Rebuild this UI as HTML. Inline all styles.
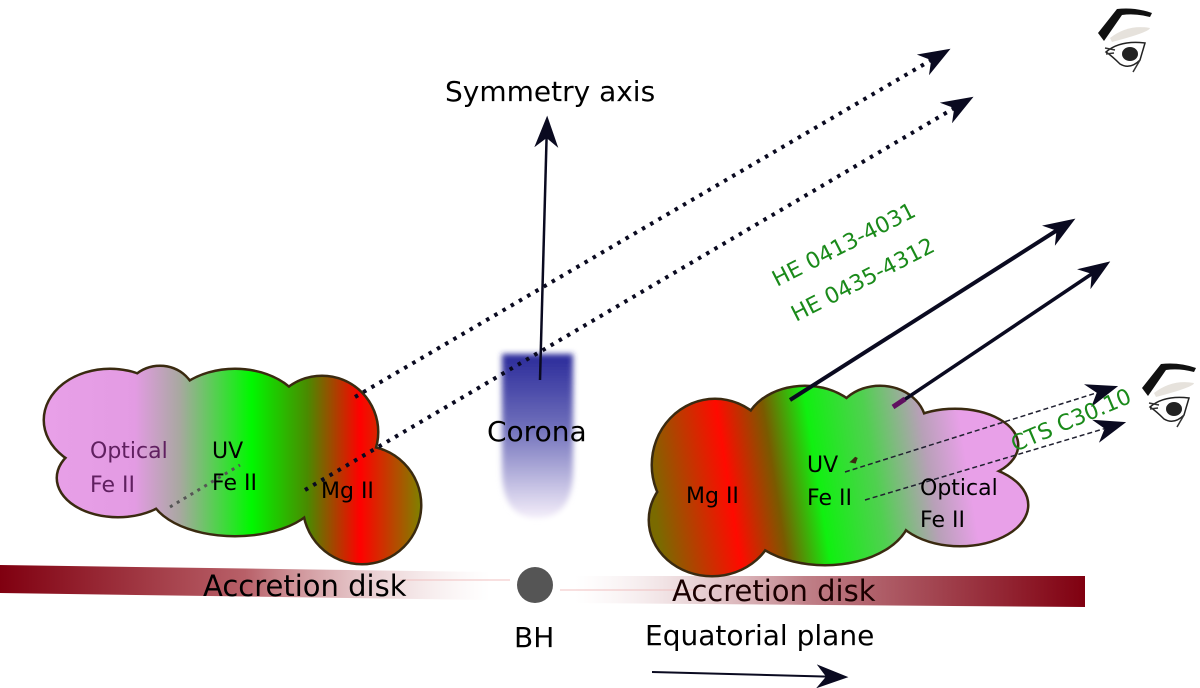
<!DOCTYPE html>
<html><head><meta charset="utf-8"><style>
html,body{margin:0;padding:0;background:#fff}
svg{display:block}
text{font-family:"DejaVu Sans","Liberation Sans",sans-serif}
</style></head><body>
<svg width="1200" height="688" viewBox="0 0 1200 688" xmlns="http://www.w3.org/2000/svg">
<defs>
<linearGradient id="gl" gradientUnits="userSpaceOnUse" x1="45" y1="0" x2="420" y2="0">
<stop offset="0" stop-color="#e8a0e8"/><stop offset="0.24" stop-color="#e39be3"/>
<stop offset="0.36" stop-color="#a8a8a0"/><stop offset="0.55" stop-color="#00f800"/>
<stop offset="0.7" stop-color="#4a8a00"/><stop offset="0.84" stop-color="#ff0000"/>
<stop offset="1" stop-color="#808000"/></linearGradient>
<linearGradient id="gr" gradientUnits="userSpaceOnUse" x1="650" y1="480" x2="1030" y2="420">
<stop offset="0" stop-color="#7a6a00"/><stop offset="0.2" stop-color="#ff0a00"/>
<stop offset="0.32" stop-color="#7a5a00"/><stop offset="0.43" stop-color="#10f010"/>
<stop offset="0.58" stop-color="#50d050"/><stop offset="0.72" stop-color="#b8a0b8"/>
<stop offset="0.82" stop-color="#e8a0e8"/><stop offset="1" stop-color="#e8a0e8"/></linearGradient>
<linearGradient id="dl" x1="0" y1="0" x2="1" y2="0">
<stop offset="0" stop-color="#800010"/><stop offset="0.5" stop-color="#b86068"/><stop offset="1" stop-color="#fff" stop-opacity="0.3"/></linearGradient>
<linearGradient id="dr" x1="0" y1="0" x2="1" y2="0">
<stop offset="0" stop-color="#fff" stop-opacity="0.3"/><stop offset="0.45" stop-color="#c08088"/><stop offset="1" stop-color="#800010"/></linearGradient>
<linearGradient id="co" x1="0" y1="0" x2="0" y2="1">
<stop offset="0" stop-color="#2a2a9a"/><stop offset="0.45" stop-color="#7070bb"/><stop offset="1" stop-color="#f4eefa"/></linearGradient>
<filter id="bl"><feGaussianBlur stdDeviation="3"/></filter>
<marker id="ahb" viewBox="0 0 10 10" refX="8" refY="5" markerWidth="32" markerHeight="24" orient="auto" markerUnits="userSpaceOnUse" preserveAspectRatio="none">
<path d="M0,0 L10,5 L0,10 L3,5 Z" fill="#0a0a20"/></marker>
</defs>

<polygon points="0,565 490,572 490,600 0,593" fill="url(#dl)"/>
<polygon points="575,576 1085,576 1085,607 575,603" fill="url(#dr)"/>
<line x1="400" y1="580" x2="510" y2="580" stroke="#f0c0c0" stroke-width="1"/>
<line x1="560" y1="590" x2="700" y2="590" stroke="#f0c0c0" stroke-width="1"/>
<circle cx="535" cy="585" r="18" fill="#555"/>

<path d="M502,354 L573,354 L573,470 Q573,518 537,518 Q502,518 502,470 Z" fill="url(#co)" filter="url(#bl)"/>

<g stroke="#3a2a10" stroke-width="5">
<ellipse cx="110" cy="420" rx="65" ry="50"/><ellipse cx="160" cy="400" rx="35" ry="33"/>
<ellipse cx="118" cy="478" rx="60" ry="38"/><ellipse cx="235" cy="420" rx="70" ry="50"/>
<ellipse cx="235" cy="490" rx="85" ry="45"/><ellipse cx="322" cy="432" rx="55" ry="55"/>
<ellipse cx="362" cy="505" rx="58" ry="58"/><ellipse cx="170" cy="455" rx="35" ry="30"/></g>
<g fill="url(#gl)">
<ellipse cx="110" cy="420" rx="65" ry="50"/><ellipse cx="160" cy="400" rx="35" ry="33"/>
<ellipse cx="118" cy="478" rx="60" ry="38"/><ellipse cx="235" cy="420" rx="70" ry="50"/>
<ellipse cx="235" cy="490" rx="85" ry="45"/><ellipse cx="322" cy="432" rx="55" ry="55"/>
<ellipse cx="362" cy="505" rx="58" ry="58"/><ellipse cx="170" cy="455" rx="35" ry="30"/></g>

<g stroke="#3a2a10" stroke-width="5">
<ellipse cx="715" cy="465" rx="62" ry="65"/><ellipse cx="712" cy="520" rx="62" ry="55"/>
<ellipse cx="805" cy="432" rx="60" ry="45"/><ellipse cx="880" cy="425" rx="45" ry="38"/>
<ellipse cx="955" cy="445" rx="62" ry="35"/><ellipse cx="960" cy="505" rx="67" ry="40"/>
<ellipse cx="825" cy="512" rx="85" ry="52"/><ellipse cx="900" cy="470" rx="45" ry="35"/></g>
<g fill="url(#gr)">
<ellipse cx="715" cy="465" rx="62" ry="65"/><ellipse cx="712" cy="520" rx="62" ry="55"/>
<ellipse cx="805" cy="432" rx="60" ry="45"/><ellipse cx="880" cy="425" rx="45" ry="38"/>
<ellipse cx="955" cy="445" rx="62" ry="35"/><ellipse cx="960" cy="505" rx="67" ry="40"/>
<ellipse cx="825" cy="512" rx="85" ry="52"/><ellipse cx="900" cy="470" rx="45" ry="35"/></g>

<line x1="540" y1="380" x2="547" y2="122" stroke="#0a0a20" stroke-width="2.5" marker-end="url(#ahb)"/>
<line x1="355" y1="397" x2="945" y2="52" stroke="#0a0a20" stroke-width="4" stroke-dasharray="3.5 6" marker-end="url(#ahb)"/>
<line x1="305" y1="490" x2="968" y2="100" stroke="#0a0a20" stroke-width="4" stroke-dasharray="3.5 6" marker-end="url(#ahb)"/>
<line x1="170" y1="507" x2="240" y2="465" stroke="#555" stroke-width="3" stroke-dasharray="3 5"/>
<line x1="790" y1="400" x2="1070" y2="222" stroke="#0a0a20" stroke-width="4" marker-end="url(#ahb)"/>
<line x1="895" y1="406" x2="1105" y2="265" stroke="#0a0a20" stroke-width="3.5" marker-end="url(#ahb)"/>
<line x1="893" y1="407" x2="905" y2="399" stroke="#601060" stroke-width="5"/>
<line x1="845" y1="472" x2="1112" y2="388" stroke="#202030" stroke-width="1.5" stroke-dasharray="5 3" marker-end="url(#ahb)"/>
<line x1="865" y1="500" x2="1120" y2="424" stroke="#202030" stroke-width="1.5" stroke-dasharray="5 3" marker-end="url(#ahb)"/>
<line x1="652" y1="672" x2="842" y2="677" stroke="#0a0a20" stroke-width="2" marker-end="url(#ahb)"/>

<g id="eye">
<path d="M1098,33 L1117,9 Q1135,7 1152,13 L1150,17 Q1135,13 1122,15 L1104,41 Z" fill="#111"/>
<path d="M1110,38 Q1128,24 1150,28 Q1150,32 1112,42 Z" fill="#e6e2dc"/>
<path d="M1106,52 Q1120,40 1145,43 L1140,60 Q1130,70 1120,64 Q1112,56 1106,52 Z" fill="#fff" stroke="#222" stroke-width="1.5"/>
<ellipse cx="1130" cy="54" rx="8" ry="7" fill="#222"/>
<path d="M1105,48 L1115,50 M1106,54 L1114,53 M1140,60 L1133,72" stroke="#333" stroke-width="1.5"/>
</g>
<use href="#eye" transform="translate(44,355)"/>

<g font-size="28" fill="#000">
<text x="445" y="101">Symmetry axis</text>
<text x="487" y="441">Corona</text>
<text x="514" y="647">BH</text>
<text x="645" y="645">Equatorial plane</text>
</g>
<text x="203" y="596" font-size="29" fill="#000">Accretion disk</text>
<text x="672" y="601" font-size="29" fill="#1a0000">Accretion disk</text>
<g font-size="22">
<text x="90" y="458" fill="#602060">Optical</text>
<text x="90" y="492" fill="#602060">Fe II</text>
<text x="212" y="458">UV</text>
<text x="212" y="490">Fe II</text>
<text x="321" y="498">Mg II</text>
<text x="686" y="503">Mg II</text>
<text x="807" y="472">UV</text>
<text x="807" y="505">Fe II</text>
<text x="920" y="495">Optical</text>
<text x="920" y="527">Fe II</text>
</g>
<g font-size="22" fill="#1a8a1a">
<text transform="translate(777,287) rotate(-27)">HE 0413-4031</text>
<text transform="translate(796,322) rotate(-27)">HE 0435-4312</text>
<text transform="translate(1015,452) rotate(-23)">CTS C30.10</text>
</g>
</svg>
</body></html>
